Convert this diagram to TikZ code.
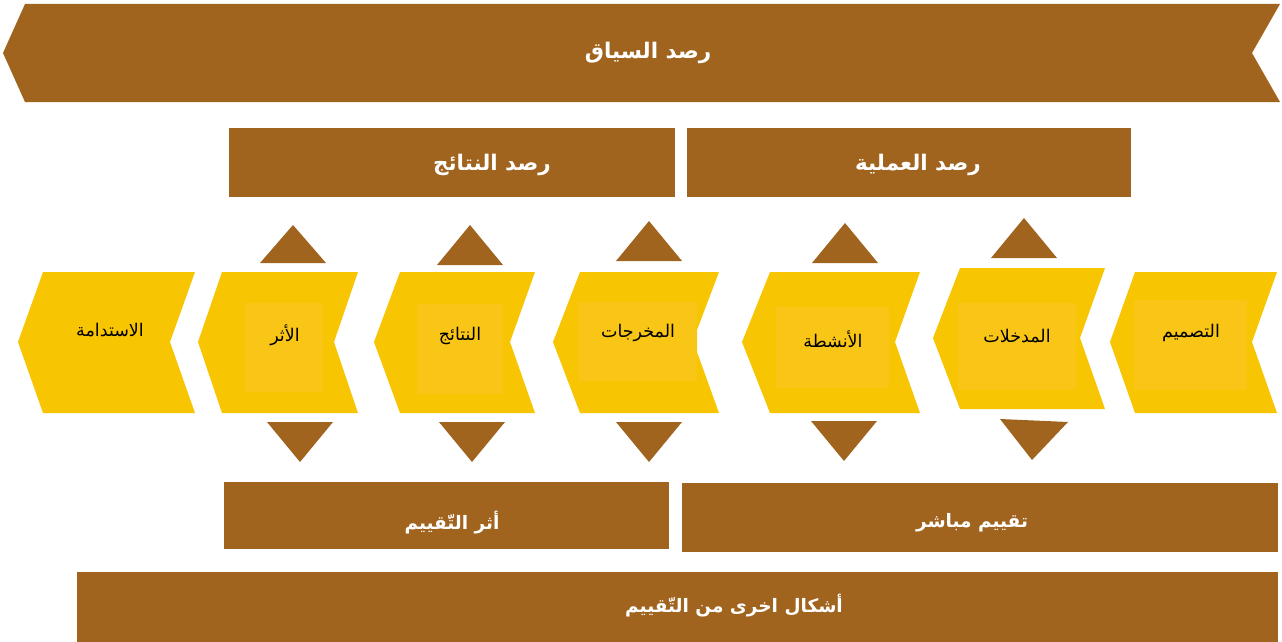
\documentclass[tikz,border=0pt]{standalone}
\usepackage{fontspec}
\newfontfamily\arabicfont[Script=Arabic]{DejaVu Sans}
\TeXXeTstate=1
\definecolor{brn}{HTML}{A0641F}
\definecolor{ylw}{HTML}{F8C502}
\definecolor{ylwin}{HTML}{F9C617}
\tikzset{
  bfill/.style={fill=brn, draw=none},
  yfill/.style={fill=ylw, draw=none},
  inbox/.style={fill=ylwin, draw=none},
  headtxt/.style={text=white, font=\arabicfont\bfseries\fontsize{21.5}{25}\selectfont, inner sep=0pt},
  foottxt/.style={text=white, font=\arabicfont\bfseries\fontsize{18.5}{22}\selectfont, inner sep=0pt},
  chevtxt/.style={text=black, font=\arabicfont\fontsize{17.5}{21}\selectfont, inner sep=0pt},
}
\begin{document}
\begin{tikzpicture}[x=1pt,y=-1pt]
\useasboundingbox (0,0) rectangle (1282,642);
% top banner
\fill[bfill] (3,53) -- (25,4) -- (1280,4) -- (1252,53) -- (1280,102) -- (25,102) -- cycle;
\node[headtxt] (ctx) at (648,53) {\beginR رصد السياق\endR};
% monitoring boxes
\fill[bfill] (229,128) rectangle (675,197);
\node[headtxt] (res) at (492,165) {\beginR رصد النتائج\endR};
\fill[bfill] (687,128) rectangle (1131,197);
\node[headtxt] (proc) at (918,165) {\beginR رصد العملية\endR};
% up triangles
\fill[bfill] (260,263) -- (293,225) -- (326,263) -- cycle;
\fill[bfill] (437,265) -- (470,225) -- (503,265) -- cycle;
\fill[bfill] (616,261) -- (649,221) -- (682,261) -- cycle;
\fill[bfill] (812,263) -- (845,223) -- (878,263) -- cycle;
\fill[bfill] (991,258) -- (1024,218) -- (1057,258) -- cycle;
% chevrons
\fill[yfill] (18,342) -- (43,272) -- (195,272) -- (170,342) -- (195,413) -- (43,413) -- cycle;
\fill[yfill] (198,342) -- (222,272) -- (358,272) -- (334,342) -- (358,413) -- (222,413) -- cycle;
\fill[yfill] (374,342) -- (400,272) -- (535,272) -- (510,342) -- (535,413) -- (400,413) -- cycle;
\fill[yfill] (553,342) -- (580,272) -- (719,272) -- (697,330) -- (697,352) -- (719,413) -- (580,413) -- cycle;
\fill[yfill] (742,342) -- (770,272) -- (920,272) -- (895,342) -- (920,413) -- (770,413) -- cycle;
\fill[yfill] (933,338) -- (960,268) -- (1105,268) -- (1080,338) -- (1105,409) -- (960,409) -- cycle;
\fill[yfill] (1110,342) -- (1135,272) -- (1277,272) -- (1252,342) -- (1277,413) -- (1135,413) -- cycle;
% inner boxes
\fill[inbox] (245,303) rectangle (323,392);
\fill[inbox] (417,304) rectangle (503,394);
\fill[inbox] (578,302) rectangle (697,381);
\fill[inbox] (776,307) rectangle (889,388);
\fill[inbox] (958,303) rectangle (1076,390);
\fill[inbox] (1134,300) rectangle (1247,390);
% chevron labels
\node[chevtxt] (sus) at (110,330) {\beginR الاستدامة\endR};
\node[chevtxt] (imp) at (285,335) {\beginR الأثر\endR};
\node[chevtxt] (out) at (460,336) {\beginR النتائج\endR};
\node[chevtxt] (opt) at (638,333) {\beginR المخرجات\endR};
\node[chevtxt] (act) at (833,339) {\beginR الأنشطة\endR};
\node[chevtxt] (inp) at (1017,336) {\beginR المدخلات\endR};
\node[chevtxt] (des) at (1191,333) {\beginR التصميم\endR};
% down triangles
\fill[bfill] (267,422) -- (333,422) -- (300,462) -- cycle;
\fill[bfill] (439,422) -- (505,422) -- (472,462) -- cycle;
\fill[bfill] (616,422) -- (682,422) -- (649,462) -- cycle;
\fill[bfill] (811,421) -- (877,421) -- (844,461) -- cycle;
\fill[bfill] (1000,419) -- (1068,422) -- (1032,460) -- cycle;
% bottom boxes
\fill[bfill] (224,482) rectangle (669,549);
\node[foottxt] (impev) at (452,523) {\beginR أثر التّقييم\endR};
\fill[bfill] (682,483) rectangle (1278,552);
\node[foottxt] (direv) at (972,523) {\beginR تقييم مباشر\endR};
\fill[bfill] (77,572) rectangle (1278,642);
\node[foottxt] (other) at (734,606) {\beginR أشكال اخرى من التّقييم\endR};
\end{tikzpicture}
\end{document}
